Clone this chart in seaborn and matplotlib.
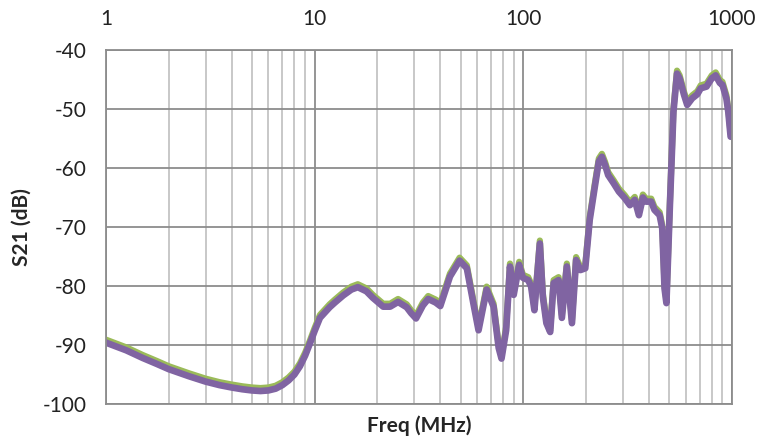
import numpy as np
import pandas as pd
import matplotlib
matplotlib.use("Agg")
import matplotlib.pyplot as plt
import seaborn as sns
from matplotlib.ticker import LogLocator, FixedLocator, NullFormatter

# S21 sweep (MHz, dB)
freq_mhz = [1, 1.25, 1.5, 1.75, 2, 2.5, 3, 3.5, 4, 4.5, 5, 5.5, 6, 6.5, 7, 7.5, 8, 8.5, 9, 9.5,
            10, 10.6, 11.8, 12.5, 13.7, 15, 16.1, 17.7, 19, 21.3, 23, 25.1, 27.6, 29, 30.6, 33, 35,
            38, 40, 44.5, 49.5, 53.6, 57.6, 61,
            66.7, 72, 76.2, 78.6, 82.7, 86.3, 89.9, 95.5, 99.5, 105.5, 109, 113,
            120, 124, 129, 134.5, 139.7, 147.5, 153, 161.6, 171, 179, 187.6, 198,
            208, 220, 230, 238, 246.5, 255, 271, 287, 306, 324, 342, 358, 374,
            387, 410, 425, 450, 463, 475, 485, 504, 524, 545, 561, 589, 610, 644,
            682, 708, 755, 800, 835, 875, 900, 940, 960, 985]

s21_purple = [-89.6, -90.9, -92.2, -93.2, -94.1, -95.3, -96.2, -96.8, -97.2, -97.5, -97.7, -97.8, -97.7, -97.4, -96.8, -96.0, -95.0, -93.6, -91.8, -89.7,
              -87.6, -85.4, -83.6, -82.8, -81.6, -80.6, -80.2, -80.9, -82.0, -83.5, -83.5, -82.7, -83.6, -84.6, -85.5, -83.3, -82.2,
              -82.8, -83.4, -78.4, -75.7, -77.0, -82.9, -87.5,
              -80.6, -83.5, -90.5, -92.3, -87.5, -76.7, -81.5, -76.4, -78.6, -79.0, -80.1, -84.1,
              -72.8, -81.8, -86.3, -87.8, -79.5, -79.0, -85.4, -76.7, -86.3, -75.6, -77.3, -77.0,
              -68.8, -63.2, -58.9, -58.1, -59.5, -61.2, -62.6, -64.0, -65.1, -66.3, -65.4, -68.0, -65.0,
              -65.7, -65.7, -67.1, -68.0, -70.2, -80.4, -82.9, -66.3, -50.5, -44.0, -44.8, -47.6, -49.3, -48.2,
              -47.5, -46.5, -46.2, -44.8, -44.3, -45.6, -45.9, -48.2, -50.5, -54.7]

s21_green = [-89.1, -90.4, -91.7, -92.7, -93.6, -94.8, -95.7, -96.3, -96.7, -97.0, -97.2, -97.3, -97.2, -96.9, -96.3, -95.5, -94.5, -93.1, -91.3, -89.2,
             -87.1, -84.9, -83.1, -82.3, -81.1, -80.1, -79.7, -80.4, -81.5, -83.0, -83.0, -82.2, -83.1, -84.1, -85.0, -82.8, -81.7,
             -82.3, -82.9, -77.9, -75.2, -76.5, -82.4, -87.0,
             -80.1, -83.0, -90.0, -91.8, -87.0, -76.2, -81.0, -75.9, -78.1, -78.5, -79.6, -83.6,
             -72.3, -81.3, -85.8, -87.3, -79.0, -78.5, -84.9, -76.2, -85.8, -75.1, -76.8, -76.5,
             -68.3, -62.7, -58.4, -57.6, -59.0, -60.7, -62.1, -63.5, -64.6, -65.8, -64.9, -67.5, -64.5,
             -65.2, -65.2, -66.6, -67.5, -69.7, -79.9, -82.4, -65.8, -50.0, -43.5, -44.3, -47.1, -48.8, -47.7,
             -47.0, -46.0, -45.7, -44.3, -43.8, -45.1, -45.4, -47.7, -50.0, -54.2]

x_ticks = [1, 10, 100, 1000]
x_tick_labels = ["1", "10", "100", "1000"]
y_ticks = [-100, -90, -80, -70, -60, -50, -40]

df = pd.DataFrame({"Freq": freq_mhz, "green": s21_green, "purple": s21_purple})

sns.set_style("white")
plt.rcParams["font.family"] = ["Lato", "DejaVu Sans"]
plt.rcParams["axes.unicode_minus"] = False

fig = plt.figure(figsize=(7.59, 4.44), dpi=100)
ax = fig.add_axes([106 / 759, 1 - 404 / 444, 626 / 759, 354 / 444])

sns.lineplot(data=df, x="Freq", y="green", color="#9BBB59", linewidth=4.5, ax=ax)
sns.lineplot(data=df, x="Freq", y="purple", color="#8064A2", linewidth=4.8, ax=ax)

ax.set_xscale("log")
ax.set_xlim(1, 1000)
ax.set_ylim(-100, -40)

ax.xaxis.set_major_locator(FixedLocator(x_ticks))
ax.set_xticklabels(x_tick_labels)
ax.xaxis.set_minor_locator(LogLocator(base=10, subs=np.arange(2, 10)))
ax.xaxis.set_minor_formatter(NullFormatter())
ax.set_yticks(y_ticks)

ax.grid(True, which="major", color="#8C8C8C", linewidth=1.3)
ax.grid(True, which="minor", axis="x", color="#C4C4C4", linewidth=1.3)
ax.set_axisbelow(True)
for s in ax.spines.values():
    s.set_color("#8C8C8C")
    s.set_linewidth(1.3)

ax.xaxis.tick_top()
ax.tick_params(axis="both", which="both", length=0, labelsize=15, colors="#222222")
ax.tick_params(axis="x", pad=15)
ax.tick_params(axis="y", pad=14)

ax.set_xlabel("Freq (MHz)", fontsize=15, fontweight="bold", labelpad=8)
ax.xaxis.set_label_position("bottom")
ax.set_ylabel("S21 (dB)", fontsize=15, fontweight="bold", labelpad=8)

fig.savefig("out.png", dpi=100)
